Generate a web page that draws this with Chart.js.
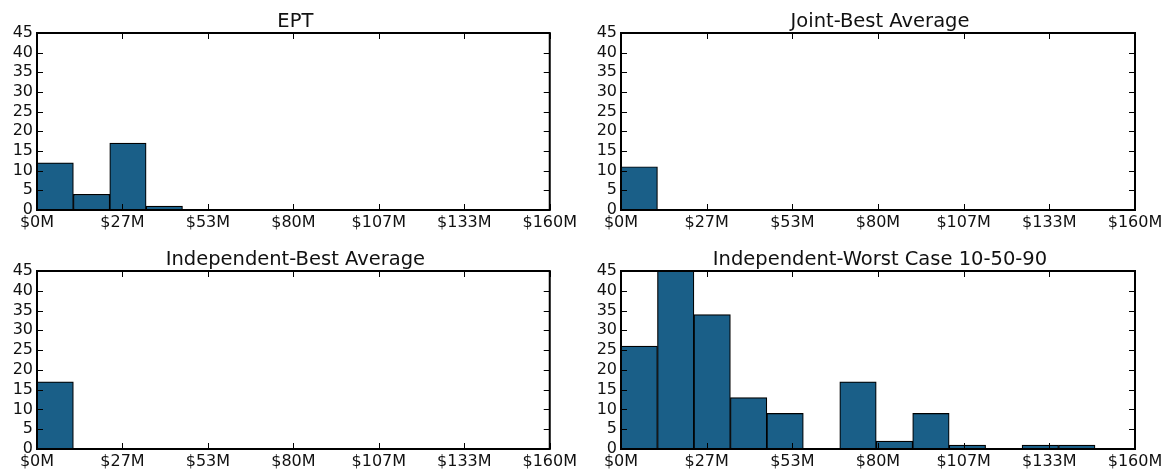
<!DOCTYPE html>
<html>
<head>
<meta charset="utf-8">
<script src="https://cdn.jsdelivr.net/npm/chart.js@4.4.0/dist/chart.umd.min.js"></script>
<style>
  html, body { margin: 0; padding: 0; background: #fff; }
  #wrap { position: relative; width: 1172px; height: 471px; overflow: hidden; }
  canvas { position: absolute; }
</style>
</head>
<body>
<div id="wrap">
  <canvas id="c0" width="580" height="235" style="left:0px;top:0px"></canvas>
  <canvas id="c1" width="586" height="235" style="left:584px;top:0px"></canvas>
  <canvas id="c2" width="580" height="233" style="left:0px;top:238px"></canvas>
  <canvas id="c3" width="586" height="233" style="left:584px;top:238px"></canvas>
</div>
<script>
// bin left edges ($M), all panels share the same bins
const binEdges = [0, 11.35, 22.7, 34.05, 45.4, 56.75, 68.1, 79.45, 90.8, 102.15, 113.5, 124.85, 136.2, 147.55];

// counts per bin
const eptCounts        = [12, 4, 17, 1, 0, 0, 0, 0, 0, 0, 0, 0, 0];
const jointBestCounts  = [11, 0, 0, 0, 0, 0, 0, 0, 0, 0, 0, 0, 0];
const indepBestCounts  = [17, 0, 0, 0, 0, 0, 0, 0, 0, 0, 0, 0, 0];
const indepWorstCounts = [26, 45, 34, 13, 9, 0, 17, 2, 9, 1, 0, 1, 1];

const titles = ['EPT', 'Joint-Best Average', 'Independent-Best Average', 'Independent-Worst Case 10-50-90'];

// x axis ticks
const xTickValues = [0, 26.667, 53.333, 80, 106.667, 133.333, 160];
const xTickLabels = ['$0M', '$27M', '$53M', '$80M', '$107M', '$133M', '$160M'];

const barColor = '#1a5f88';
const FONT = { family: 'DejaVu Sans', size: 16 };

// matplotlib-like frame: box + inward ticks on all sides + title
const framePlugin = {
  id: 'frame',
  afterDatasetsDraw(chart, args, opts) {
    const { ctx, chartArea: a, scales: { x, y } } = chart;
    ctx.save();
    ctx.strokeStyle = '#000';
    ctx.lineWidth = 1;
    ctx.beginPath();
    x.ticks.forEach(t => {
      const px = Math.round(x.getPixelForValue(t.value)) + 0.5;
      ctx.moveTo(px, a.bottom); ctx.lineTo(px, a.bottom - 6);
      ctx.moveTo(px, a.top); ctx.lineTo(px, a.top + 6);
    });
    y.ticks.forEach(t => {
      const py = Math.round(y.getPixelForValue(t.value)) + 0.5;
      ctx.moveTo(a.left, py); ctx.lineTo(a.left + 6, py);
      ctx.moveTo(a.right, py); ctx.lineTo(a.right - 6, py);
    });
    ctx.stroke();
    ctx.lineWidth = 2;
    ctx.strokeRect(a.left, a.top, a.right - a.left, a.bottom - a.top);
    ctx.fillStyle = '#111';
    ctx.font = '19.5px "DejaVu Sans"';
    ctx.textAlign = 'center';
    ctx.textBaseline = 'alphabetic';
    ctx.fillText(opts.text, (a.left + a.right) / 2 + 2, a.top - 6);
    ctx.restore();
  }
};

function makeHist(id, title, counts, padRight, xAxisH) {
  const points = counts.map((c, i) => ({ x: (binEdges[i] + binEdges[i + 1]) / 2, y: c }));
  new Chart(document.getElementById(id), {
    type: 'bar',
    data: {
      datasets: [{
        data: points,
        backgroundColor: barColor,
        borderColor: '#000',
        borderWidth: 1.2,
        borderSkipped: false,
        barPercentage: 1,
        categoryPercentage: 1
      }]
    },
    plugins: [framePlugin],
    options: {
      responsive: false,
      animation: false,
      layout: { padding: { top: 33, right: padRight, left: 0, bottom: 0 } },
      plugins: {
        legend: { display: false },
        tooltip: { enabled: false },
        frame: { text: title }
      },
      scales: {
        x: {
          type: 'linear',
          min: 0,
          max: 160,
          offset: false,
          grid: { display: false, drawTicks: false },
          border: { display: false },
          afterBuildTicks: s => { s.ticks = xTickValues.map(v => ({ value: v })); },
          afterFit: s => { s.height = xAxisH; },
          ticks: {
            autoSkip: false,
            maxRotation: 0,
            padding: 3,
            color: '#111',
            font: FONT,
            callback: (v, i) => xTickLabels[i]
          }
        },
        y: {
          min: 0,
          max: 45,
          grid: { display: false, drawTicks: false },
          border: { display: false },
          afterFit: s => { s.width = 37; },
          ticks: { stepSize: 5, autoSkip: false, padding: 4, color: '#111', font: FONT }
        }
      }
    }
  });
}

makeHist('c0', titles[0], eptCounts, 29, 25);
makeHist('c1', titles[1], jointBestCounts, 35, 25);
makeHist('c2', titles[2], indepBestCounts, 29, 22);
makeHist('c3', titles[3], indepWorstCounts, 35, 22);
</script>
</body>
</html>
